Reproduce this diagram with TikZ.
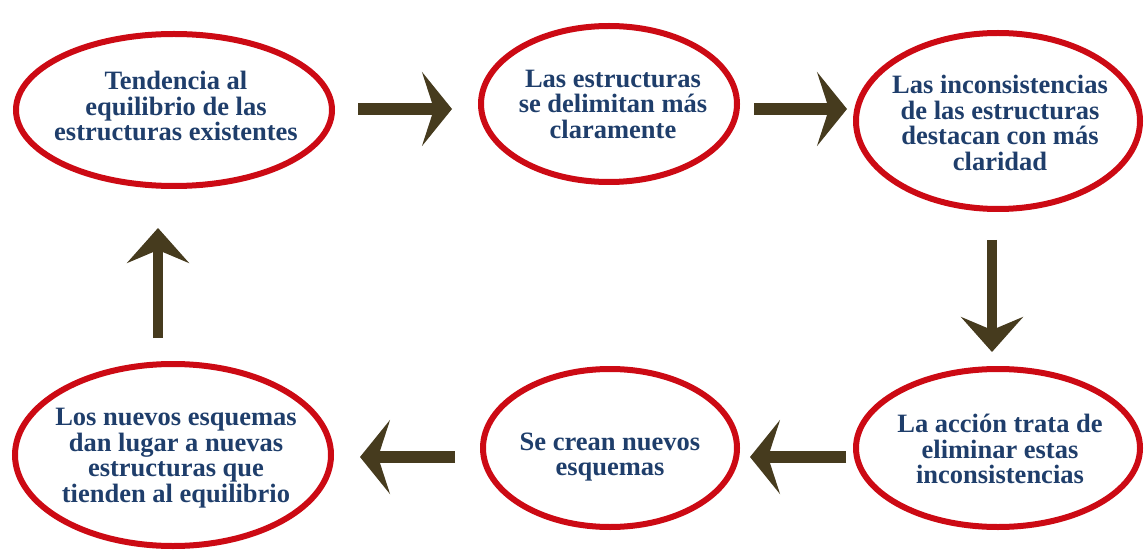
\documentclass[tikz,border=0pt]{standalone}
\usepackage{fontspec}
\setmainfont{Liberation Serif}
\usetikzlibrary{shapes.geometric,arrows.meta}
\definecolor{ringred}{HTML}{CC0A14}
\definecolor{txtblue}{HTML}{1F3E6B}
\definecolor{arrbrown}{HTML}{463B1E}
\tikzset{
  ring/.style={draw=ringred, line width=6pt, ellipse, inner sep=0pt},
  lbl/.style={text=txtblue, align=center, inner sep=0pt, font=\fontsize{26.5}{25.5}\selectfont\bfseries},
  flow/.style={draw=arrbrown, line width=12pt, -{Stealth[length=30pt,width=74pt,inset=12pt]}},
  flowv/.style={draw=arrbrown, line width=10pt, -{Stealth[length=35pt,width=62pt,inset=13pt]}},
}
\begin{document}
\begin{tikzpicture}[x=1pt,y=-1pt]
\useasboundingbox (0,0) rectangle (1145,553);
\node[ring, minimum width=316pt, minimum height=152pt] (e1) at (174,110) {};
\node[ring, minimum width=256pt, minimum height=156pt] (e2) at (609,104) {};
\node[ring, minimum width=284pt, minimum height=176pt] (e3) at (998,121) {};
\node[ring, minimum width=316pt, minimum height=182pt] (e4) at (173,455) {};
\node[ring, minimum width=254pt, minimum height=158pt] (e5) at (610,448) {};
\node[ring, minimum width=284pt, minimum height=158pt] (e6) at (998,448) {};
\node[lbl] (t1) at (176,106) {Tendencia al\\equilibrio de las\\estructuras existentes};
\node[lbl] (t2) at (613,104) {Las estructuras\\se delimitan más\\claramente};
\node[lbl] (t3) at (1000,123) {Las inconsistencias\\de las estructuras\\destacan con más\\claridad};
\node[lbl] (t4) at (176,458) {Los nuevos esquemas\\dan lugar a nuevas\\estructuras que\\tienden al equilibrio};
\node[lbl] (t5) at (610,457) {Se crean nuevos\\esquemas};
\node[lbl] (t6) at (1000,449) {La acción trata de\\eliminar estas\\inconsistencias};
\coordinate (a1s) at (358,109); \coordinate (a1e) at (452,109);
\coordinate (a2s) at (754,109); \coordinate (a2e) at (847,109);
\coordinate (a3s) at (992,240); \coordinate (a3e) at (992,352);
\coordinate (a4s) at (846,457); \coordinate (a4e) at (750,457);
\coordinate (a5s) at (455,457); \coordinate (a5e) at (360,457);
\coordinate (a6s) at (158,338); \coordinate (a6e) at (158,228);
\draw[flow] (a1s) -- (a1e);
\draw[flow] (a2s) -- (a2e);
\draw[flowv] (a3s) -- (a3e);
\draw[flow] (a4s) -- (a4e);
\draw[flow] (a5s) -- (a5e);
\draw[flowv] (a6s) -- (a6e);
\end{tikzpicture}
\end{document}
